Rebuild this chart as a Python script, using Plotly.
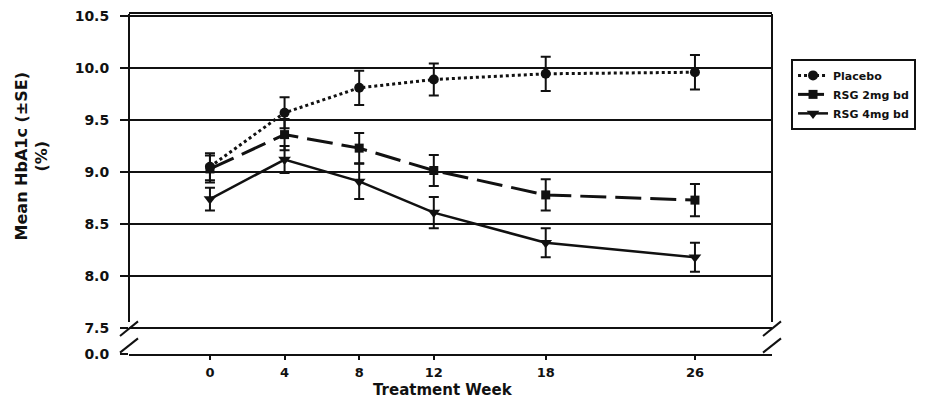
import plotly.graph_objects as go

weeks = [0, 4, 8, 12, 18, 26]

placebo_mean = [9.05, 9.57, 9.81, 9.89, 9.945, 9.96]
placebo_se = [0.13, 0.15, 0.165, 0.155, 0.165, 0.165]

rsg2_mean = [9.03, 9.36, 9.23, 9.015, 8.78, 8.73]
rsg2_se = [0.13, 0.15, 0.145, 0.15, 0.15, 0.155]

rsg4_mean = [8.74, 9.12, 8.91, 8.61, 8.32, 8.18]
rsg4_se = [0.11, 0.13, 0.17, 0.15, 0.14, 0.14]

series_names = ["Placebo", "RSG 2mg bd", "RSG 4mg bd"]

y_tickvals = [7.25, 7.5, 8.0, 8.5, 9.0, 9.5, 10.0, 10.5]
y_ticktext = ["0.0", "7.5", "8.0", "8.5", "9.0", "9.5", "10.0", "10.5"]

x_tickvals = [0, 4, 8, 12, 18, 26]
x_ticktext = ["0", "4", "8", "12", "18", "26"]

FONT = "DejaVu Sans"
BLACK = "#111111"

fig = go.Figure()

def add_series(name, mean, se, symbol, dash, lw, msize):
    fig.add_trace(go.Scatter(
        x=weeks, y=mean, name=name, mode="lines+markers",
        line=dict(color=BLACK, width=lw, dash=dash),
        marker=dict(symbol=symbol, size=msize, color=BLACK),
        error_y=dict(type="data", array=se, visible=True, color=BLACK,
                     thickness=2, width=5),
    ))

add_series(series_names[0], placebo_mean, placebo_se, "circle", "3px,3px", 3, 10)
add_series(series_names[1], rsg2_mean, rsg2_se, "square", "26px,9px", 3, 9)
add_series(series_names[2], rsg4_mean, rsg4_se, "triangle-down", "solid", 2.5, 11)

shapes = []
# vertical axis lines (left and right) above the break
for xp in (0, 1):
    shapes.append(dict(type="line", xref="paper", yref="paper",
                       x0=xp, x1=xp, y0=0.094, y1=1.0,
                       line=dict(color=BLACK, width=2)))
# axis-break slashes
for xp in (0, 1):
    for (ya, yb) in ((0.053, 0.096), (0.004, 0.046)):
        shapes.append(dict(type="line", xref="paper", yref="paper",
                           x0=xp - 0.014, x1=xp + 0.014, y0=ya, y1=yb,
                           line=dict(color=BLACK, width=2)))

fig.update_layout(
    width=930, height=402, autosize=False,
    margin=dict(l=121, r=166, t=6, b=56, autoexpand=False),
    paper_bgcolor="white", plot_bgcolor="white",
    showlegend=True,
    legend=dict(x=1.0296, y=0.868, xanchor="left", yanchor="top",
                bordercolor=BLACK, borderwidth=2, bgcolor="white",
                font=dict(family=FONT, size=11, color=BLACK, weight="bold"),
                itemwidth=30, tracegroupgap=0),
    xaxis=dict(range=[-4.34, 30.13], tickvals=x_tickvals, ticktext=x_ticktext,
               showgrid=False, zeroline=False, showline=True, mirror=True,
               linecolor=BLACK, linewidth=2, ticks="outside", ticklen=4,
               tickwidth=2, tickcolor=BLACK, ticklabelstandoff=1,
               tickfont=dict(family=FONT, size=13, color=BLACK, weight="bold")),
    yaxis=dict(range=[7.25, 10.52], tickvals=y_tickvals, ticktext=y_ticktext,
               showgrid=True, gridcolor=BLACK, gridwidth=2, zeroline=False,
               showline=False, ticks="outside", ticklen=8, tickwidth=2,
               tickcolor=BLACK, ticklabelstandoff=8, ticklabeloverflow="allow",
               tickfont=dict(family=FONT, size=14, color=BLACK, weight="bold")),
    shapes=shapes,
    annotations=[
        dict(text="Mean HbA1c (±SE)<br>(%)", xref="paper", yref="paper",
             x=-0.1509, y=0.581, xanchor="center", yanchor="middle",
             textangle=-90, showarrow=False,
             font=dict(family=FONT, size=16, color=BLACK, weight="bold")),
        dict(text="Treatment Week", xref="paper", yref="paper",
             x=0.488, y=-0.106, xanchor="center", yanchor="middle",
             showarrow=False,
             font=dict(family=FONT, size=15, color=BLACK, weight="bold")),
    ],
)

fig.write_html("out.html")
